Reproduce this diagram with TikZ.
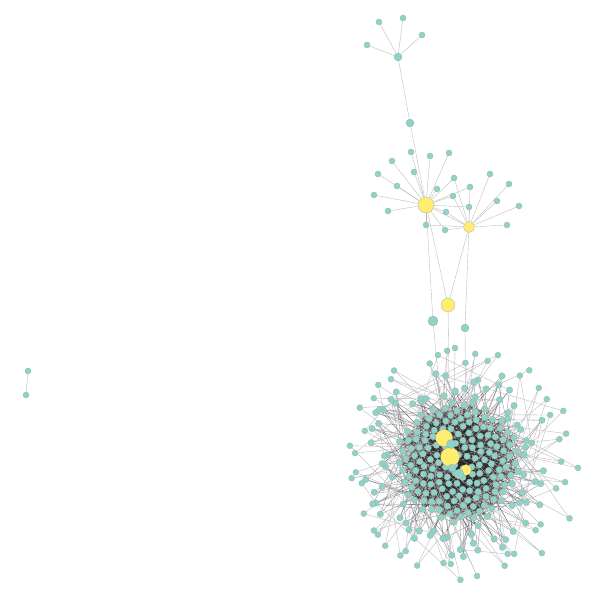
\documentclass[tikz,border=0pt]{standalone}
\usetikzlibrary{calc}
\definecolor{tuerkis}{HTML}{8DD3C7}
\definecolor{gelb}{HTML}{FFED6F}
\definecolor{randgrau}{HTML}{A3A9A8}
\definecolor{kantengrau}{HTML}{B9B9B9}
\pgfdeclarelayer{kanten}
\pgfsetlayers{kanten,main}
\tikzset{knoten/.style={circle,fill=tuerkis,draw=randgrau,line width=0.25pt,inner sep=0,minimum size=#1},
  knoten/.default=6pt,
  gross/.style={knoten=#1,fill=gelb},
  kante/.style={draw=kantengrau,line width=0.35pt},
  kern/.style={draw=black!85,line width=0.3pt,opacity=0.55}}

\begin{document}
\begin{tikzpicture}[x=1pt,y=-1pt]
\begin{pgfonlayer}{kanten}
  \fill[white] (0,0) rectangle (600,600);
\end{pgfonlayer}
\useasboundingbox (0,0) rectangle (600,600);
% oberer Baum: Stern, Kette, zwei gelbe Hubs
\node[knoten=8pt] (h1) at (398,57) {};
\foreach \p [count=\i] in {(379,22),(403,18),(422,35),(367,45)}
  \node[knoten] (b\i) at \p {};
\node[knoten=8pt] (m1) at (410,123) {};
\node[gross=16pt] (y1) at (426,205) {};
\node[gross=11pt] (y2) at (469,227) {};
\foreach \p [count=\i] in {(411,152),(430,156),(449,153),(392,161),(414,172),(378,174),
  (397,186),(374,195),(388,211),(437,189),(446,212),(426,225)}
  \node[knoten] (a\i) at \p {};
\foreach \p [count=\i] in {(454,178),(453,196),(470,187),(469,207),(445,230)}
  \node[knoten] (s\i) at \p {};
\foreach \p [count=\i] in {(490,174),(509,184),(497,201),(519,206),(507,225)}
  \node[knoten] (d\i) at \p {};
\node[gross=14pt] (y3) at (448,305) {};
\node[knoten=10pt] (m2) at (433,321) {};
\node[knoten=8pt] (m3) at (465,328) {};
\node[knoten] (m4) at (455,348) {};
% einzelnes Paar links
\node[knoten] (e1) at (28,371) {};
\node[knoten] (e2) at (26,395) {};
% Knaeuel: Kern als Sonnenblume, Ring und Aussenblaetter gestreut
\pgfmathsetseed{7}
\foreach \i in {1,...,170}{
  \pgfmathsetmacro{\rr}{61*sqrt(\i/170)+rand*1.5}
  \pgfmathsetmacro{\w}{360*frac(\i*0.381966)}
  \node[knoten=6.5pt] (c\i) at ({458+\rr*cos(\w)},{462+\rr*sin(\w)}) {};
}
\foreach \i in {1,...,80}{
  \pgfmathsetmacro{\rr}{65+rnd*32}
  \pgfmathsetmacro{\w}{360*frac(\i*0.618034)+rand*4}
  \node[knoten=6.5pt] (r\i) at ({458+\rr*cos(\w)},{462+\rr*sin(\w)}) {};
}
\foreach \i in {1,...,48}{
  \pgfmathsetmacro{\rr}{98+rnd*25}
  \pgfmathsetmacro{\w}{360*frac(\i*0.618034+0.3)+rand*4}
  \node[knoten=6pt] (o\i) at ({460+\rr*cos(\w)},{464+\rr*sin(\w)}) {};
}
\node[gross=17pt] (g2) at (444,438) {};
\node[gross=19pt] (g1) at (450,457) {};
\node[gross=11pt] (g3) at (466,470) {};
\node[knoten=9pt] (t1) at (451,444) {};
\node[knoten=10pt] (t2) at (459,474) {};
\node[knoten=8pt] (t3) at (452,468) {};
\begin{pgfonlayer}{kanten}
  \foreach \i in {1,...,4} \draw[kante] (h1) -- (b\i);
  \draw[kante] (h1) -- (m1) (m1) -- (y1) (y1) -- (y2);
  \foreach \i in {1,...,12} \draw[kante] (y1) -- (a\i);
  \foreach \i in {1,...,5} \draw[kante] (y1) -- (s\i) (y2) -- (s\i) (y2) -- (d\i);
  \draw[kante] (y2) -- (a12) (y2) -- (a11);
  \draw[kante] (y1) -- (y3) (y2) -- (y3) (y1) -- (m2) (y2) -- (m3);
  \draw[kante] (y3) -- (g1) (m2) -- (g2) (m3) -- (g3) (m4) -- (c40);
  \draw[kante] (e1) -- (e2);
  \foreach \i in {1,...,170}{
    \foreach \k in {1,...,6}{
      \pgfmathtruncatemacro{\j}{mod(\i+random(1,168),170)+1}
      \draw[kern] (c\i) -- (c\j);
    }
  }
  \foreach \i in {1,...,80}{
    \foreach \k in {1,...,3}{
      \pgfmathtruncatemacro{\j}{random(1,170)}
      \draw[kern] (r\i) -- (c\j);
    }
  }
  \foreach \i in {1,...,48}{
    \pgfmathtruncatemacro{\j}{random(1,170)}
    \pgfmathtruncatemacro{\l}{random(1,80)}
    \draw[kante] (o\i) -- (c\j) (o\i) -- (r\l);
  }
  \foreach \i in {1,...,40}{
    \pgfmathtruncatemacro{\j}{random(1,170)}
    \draw[kern] (g1) -- (c\j) (g2) -- (c\i) (g3) -- (c\j);
  }
\end{pgfonlayer}
\end{tikzpicture}
\end{document}
